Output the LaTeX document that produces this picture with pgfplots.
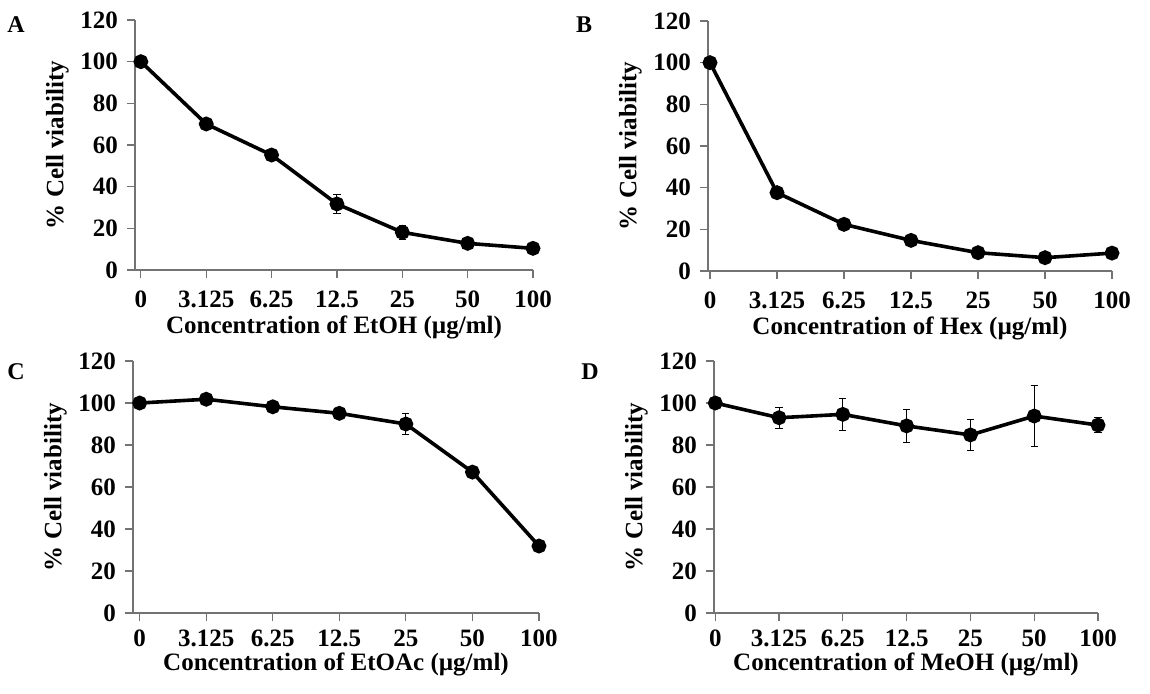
\documentclass[border=0pt]{standalone}
\usepackage{fontspec}
\setmainfont{Liberation Serif}
\usepackage{pgfplots}
\usepackage{pgfplotstable}
\pgfplotsset{compat=1.18}

% x = category index (0,3.125,...,100 ug/ml), y = % viability, e = error
\pgfplotstableread{
x y e
0 100 0.5
1 70.1 1.6
2 55.2 2.0
3 31.7 4.7
4 18.1 3.4
5 12.8 1.0
6 10.4 0.8
}\dataA
\pgfplotstableread{
x y e
0 100 0.5
1 37.6 1.2
2 22.4 1.0
3 14.7 0.8
4 8.8 0.8
5 6.4 0.8
6 8.6 0.8
}\dataB
\pgfplotstableread{
x y e
0 100 0.5
1 101.8 0.8
2 98.2 1.2
3 95.1 2.2
4 90.0 4.8
5 67.1 2.3
6 31.9 2.5
}\dataC
\pgfplotstableread{
x y e
0 100 0.5
1 93.0 5.1
2 94.6 7.5
3 89.1 7.7
4 84.8 7.2
5 93.8 14.6
6 89.5 3.4
}\dataD

\pgfplotsset{
  panel/.style={
    scale only axis,
    anchor=south west,
    axis lines*=left,
    axis line style={black!55, line width=0.6pt},
    ymin=0, ymax=120, ytick={0,20,...,120},
    xmax=6,
    xtick={0,...,6},
    xticklabels={0,3.125,6.25,12.5,25,50,100},
    tick align=outside,
    major tick length=4pt,
    tick style={black!55, line width=0.6pt},
    /pgf/number format/assume math mode=true,
    ticklabel style={font=\fontsize{12.5}{14}\selectfont\bfseries},
    yticklabel style={xshift=-1pt},
    label style={font=\fontsize{12.5}{14}\selectfont\bfseries},
    ylabel style={yshift=-1pt},
    ylabel={\% Cell viability},
    clip=false,
  },
  upper/.style={
    xticklabel style={yshift=-3pt},
    xlabel style={yshift=3pt},
  },
  lower/.style={
    xticklabel style={yshift=-1pt},
    xlabel style={yshift=4pt},
  },
  curve/.style={black, line width=1.8pt, mark=*, mark size=2.8pt,
    error bars/.cd, y dir=both, y explicit,
    error bar style={black, line width=0.5pt},
    error mark options={rotate=90, mark size=1.8pt, black, line width=0.5pt}},
}

\begin{document}
\begin{tikzpicture}
\useasboundingbox (0,0) rectangle (575pt,-346.5pt);

\begin{axis}[panel, upper, at={(67.5pt,-135pt)}, width=199pt, height=125pt, xmin=-0.09,
  xlabel={Concentration of EtOH (µg/ml)}]
\addplot[curve] table[x=x, y=y, y error=e] {\dataA};
\end{axis}

\begin{axis}[panel, upper, at={(354pt,-135.5pt)}, width=202pt, height=125pt, xmin=-0.03,
  xlabel={Concentration of Hex (µg/ml)}]
\addplot[curve] table[x=x, y=y, y error=e] {\dataB};
\end{axis}

\begin{axis}[panel, lower, at={(66.5pt,-306.5pt)}, width=203pt, height=126pt, xmin=-0.1,
  xlabel={Concentration of EtOAc (µg/ml)}]
\addplot[curve] table[x=x, y=y, y error=e] {\dataC};
\end{axis}

\begin{axis}[panel, lower, at={(357pt,-306.5pt)}, width=192pt, height=126pt, xmin=-0.02,
  xlabel={Concentration of MeOH (µg/ml)}]
\addplot[curve] table[x=x, y=y, y error=e] {\dataD};
\end{axis}

\node[font=\fontsize{12}{14}\selectfont\bfseries] at (8pt,-12.5pt) {A};
\node[font=\fontsize{12}{14}\selectfont\bfseries] at (292pt,-12.5pt) {B};
\node[font=\fontsize{12}{14}\selectfont\bfseries] at (8pt,-186pt) {C};
\node[font=\fontsize{12}{14}\selectfont\bfseries] at (295pt,-186pt) {D};
\end{tikzpicture}
\end{document}
